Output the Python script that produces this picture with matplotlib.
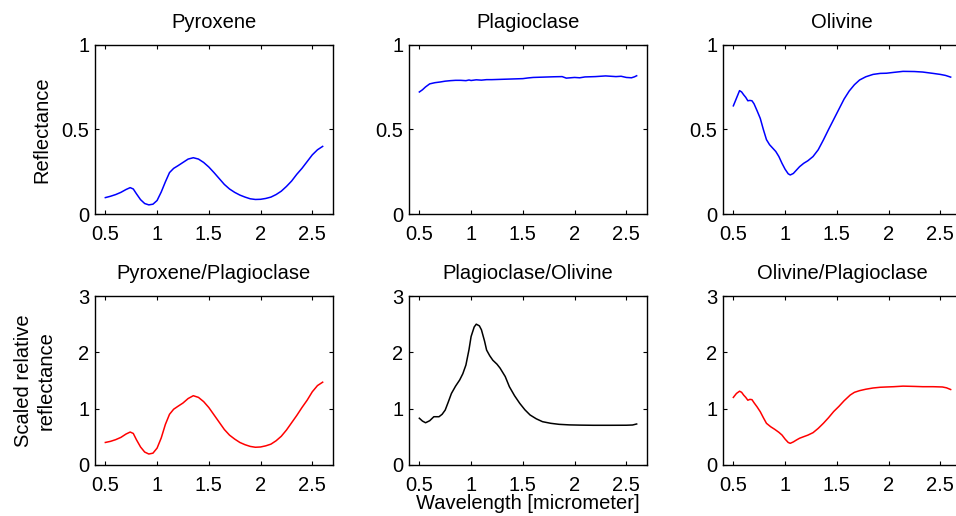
import matplotlib
matplotlib.use("Agg")
import matplotlib.pyplot as plt

plt.rcParams["font.family"] = ["Liberation Sans", "DejaVu Sans"]

# Reflectance spectra (wavelength in micrometer)
pyroxene_wl = [0.50, 0.55, 0.60, 0.65, 0.70, 0.74, 0.77, 0.80, 0.84, 0.88, 0.92, 0.96,
               1.00, 1.04, 1.08, 1.12, 1.16, 1.20, 1.25, 1.30, 1.35, 1.40, 1.45, 1.50,
               1.55, 1.60, 1.65, 1.70, 1.75, 1.80, 1.85, 1.90, 1.95, 2.00, 2.05, 2.10,
               2.15, 2.20, 2.25, 2.30, 2.35, 2.40, 2.45, 2.50, 2.55, 2.60]
pyroxene_r = [0.097, 0.105, 0.115, 0.128, 0.145, 0.156, 0.148, 0.120, 0.085, 0.062, 0.054, 0.058,
              0.080, 0.130, 0.190, 0.245, 0.270, 0.285, 0.305, 0.325, 0.333, 0.325, 0.305, 0.278,
              0.245, 0.210, 0.175, 0.148, 0.128, 0.112, 0.100, 0.090, 0.086, 0.087, 0.092, 0.100,
              0.115, 0.135, 0.163, 0.195, 0.235, 0.270, 0.310, 0.350, 0.380, 0.400]

plag_wl = [0.50, 0.53, 0.56, 0.60, 0.65, 0.70, 0.75, 0.80, 0.85, 0.90, 0.95, 0.98, 1.00,
           1.05, 1.10, 1.15, 1.20, 1.30, 1.40, 1.50, 1.55, 1.60, 1.70, 1.80, 1.88, 1.92,
           1.96, 2.00, 2.05, 2.10, 2.20, 2.30, 2.35, 2.40, 2.45, 2.50, 2.55, 2.58, 2.60]
plag_r = [0.722, 0.735, 0.752, 0.770, 0.777, 0.781, 0.786, 0.789, 0.791, 0.791, 0.789, 0.793, 0.790,
          0.794, 0.792, 0.795, 0.795, 0.797, 0.799, 0.801, 0.805, 0.808, 0.810, 0.812, 0.813, 0.804,
          0.806, 0.808, 0.806, 0.811, 0.813, 0.817, 0.815, 0.813, 0.815, 0.808, 0.806, 0.812, 0.818]

olivine_wl = [0.50, 0.52, 0.54, 0.56, 0.58, 0.60, 0.62, 0.64, 0.66, 0.68, 0.70, 0.73, 0.76,
              0.79, 0.82, 0.85, 0.88, 0.91, 0.94, 0.97, 1.00, 1.03, 1.05, 1.08, 1.11, 1.14,
              1.18, 1.22, 1.27, 1.32, 1.37, 1.42, 1.47, 1.52, 1.57, 1.62, 1.67, 1.72, 1.78,
              1.85, 1.92, 1.98, 2.05, 2.14, 2.25, 2.33, 2.43, 2.50, 2.55, 2.60]
olivine_r = [0.640, 0.670, 0.700, 0.730, 0.722, 0.705, 0.690, 0.670, 0.672, 0.670, 0.652, 0.610, 0.566,
             0.500, 0.440, 0.410, 0.390, 0.370, 0.340, 0.300, 0.265, 0.238, 0.231, 0.240, 0.260, 0.280,
             0.300, 0.315, 0.340, 0.380, 0.438, 0.500, 0.560, 0.620, 0.680, 0.728, 0.765, 0.793, 0.812,
             0.826, 0.832, 0.833, 0.838, 0.844, 0.843, 0.840, 0.832, 0.826, 0.820, 0.810]

# Scaled relative reflectance (ratio spectra)
pyx_plag_wl = pyroxene_wl
pyx_plag = [0.40, 0.42, 0.45, 0.49, 0.55, 0.585, 0.56, 0.45, 0.32, 0.23, 0.195, 0.21,
            0.30, 0.48, 0.72, 0.90, 0.99, 1.04, 1.10, 1.18, 1.23, 1.20, 1.125, 1.02,
            0.89, 0.76, 0.63, 0.53, 0.46, 0.40, 0.36, 0.33, 0.315, 0.32, 0.34, 0.37,
            0.43, 0.51, 0.62, 0.75, 0.88, 1.02, 1.15, 1.30, 1.41, 1.47]

plag_ol_wl = [0.50, 0.53, 0.56, 0.60, 0.64, 0.69, 0.72, 0.75, 0.78, 0.81, 0.85, 0.89, 0.92,
              0.95, 0.98, 1.00, 1.03, 1.05, 1.08, 1.10, 1.13, 1.15, 1.18, 1.21, 1.25, 1.28,
              1.33, 1.37, 1.42, 1.47, 1.52, 1.57, 1.63, 1.69, 1.77, 1.85, 1.95, 2.05, 2.18,
              2.35, 2.50, 2.56, 2.60]
plag_ol = [0.83, 0.78, 0.75, 0.786, 0.857, 0.857, 0.90, 0.976, 1.12, 1.27, 1.40, 1.51, 1.62,
           1.775, 2.05, 2.28, 2.45, 2.50, 2.47, 2.40, 2.20, 2.04, 1.94, 1.86, 1.79, 1.72,
           1.57, 1.39, 1.23, 1.095, 0.98, 0.888, 0.82, 0.769, 0.74, 0.722, 0.712, 0.708, 0.705,
           0.705, 0.706, 0.71, 0.728]

ol_plag_wl = [0.50, 0.53, 0.56, 0.58, 0.60, 0.62, 0.64, 0.66, 0.68, 0.70, 0.73, 0.76, 0.79,
              0.82, 0.86, 0.90, 0.94, 0.97, 1.00, 1.03, 1.05, 1.08, 1.11, 1.14, 1.18, 1.22,
              1.27, 1.32, 1.37, 1.42, 1.47, 1.52, 1.57, 1.63, 1.67, 1.72, 1.78, 1.85, 1.92,
              1.98, 2.05, 2.14, 2.25, 2.33, 2.43, 2.52, 2.56, 2.60]
ol_plag = [1.20, 1.27, 1.31, 1.29, 1.24, 1.20, 1.15, 1.165, 1.16, 1.105, 1.03, 0.946, 0.84,
           0.74, 0.68, 0.633, 0.58, 0.532, 0.46, 0.40, 0.385, 0.41, 0.444, 0.475, 0.503, 0.53,
           0.574, 0.65, 0.74, 0.84, 0.95, 1.04, 1.14, 1.243, 1.29, 1.32, 1.345, 1.367, 1.38,
           1.385, 1.39, 1.40, 1.395, 1.39, 1.39, 1.385, 1.37, 1.34]

titles = ["Pyroxene", "Plagioclase", "Olivine",
          "Pyroxene/Plagioclase", "Plagioclase/Olivine", "Olivine/Plagioclase"]
x_ticks = [0.5, 1, 1.5, 2, 2.5]
top_yticks = [0, 0.5, 1]
bottom_yticks = [0, 1, 2, 3]

panels = [
    (pyroxene_wl, pyroxene_r, "blue"),
    (plag_wl, plag_r, "blue"),
    (olivine_wl, olivine_r, "blue"),
    (pyx_plag_wl, pyx_plag, "red"),
    (plag_ol_wl, plag_ol, "black"),
    (ol_plag_wl, ol_plag, "red"),
]

W, H = 956, 516
fig = plt.figure(figsize=(W / 100, H / 100), dpi=100)

# pixel layout of the 2x3 grid; the last column runs past the right edge
col_left = [95, 409, 723]
row_top = [45, 296]
ax_w, ax_h = 238, 169

axes = []
for i, (wl, val, colour) in enumerate(panels):
    row, col = divmod(i, 3)
    left = col_left[col] / W
    bottom = (H - row_top[row] - ax_h) / H
    ax = fig.add_axes([left, bottom, ax_w / W, ax_h / H])
    ax.plot(wl, val, color=colour, lw=1.1)
    ax.set_xlim(0.4, 2.7)
    ax.set_xticks(x_ticks)
    ax.set_xticklabels(["0.5", "1", "1.5", "2", "2.5"])
    if row == 0:
        ax.set_ylim(0, 1)
        ax.set_yticks(top_yticks)
        ax.set_yticklabels(["0", "0.5", "1"])
    else:
        ax.set_ylim(0, 3)
        ax.set_yticks(bottom_yticks)
    ax.tick_params(direction="in", top=True, right=True, length=3, width=0.8,
                   labelsize=14.5, colors="black")
    ax.tick_params(axis="x", pad=8)
    ax.tick_params(axis="y", pad=4)
    for s in ax.spines.values():
        s.set_linewidth(1.0)
    ax.set_title(titles[i], fontsize=14.5, pad=12)
    axes.append(ax)

axes[0].set_ylabel("Reflectance", fontsize=14.5, va="center")
axes[0].yaxis.set_label_coords(-0.223, 0.5)
axes[3].set_ylabel("Scaled relative\nreflectance", fontsize=14.5, va="center",
                   linespacing=1.25)
axes[3].yaxis.set_label_coords(-0.252, 0.5)
axes[4].set_xlabel("Wavelength [micrometer]", fontsize=14.5, va="baseline")
axes[4].xaxis.set_label_coords(0.5, -0.262)

fig.savefig("out.png", dpi=100)
